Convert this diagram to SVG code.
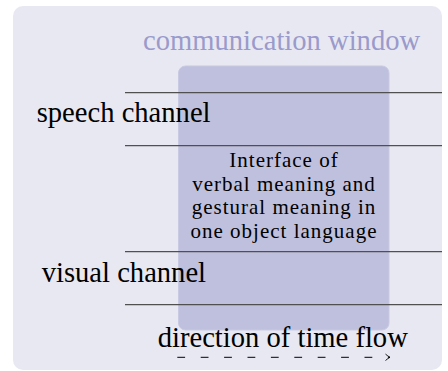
<svg xmlns="http://www.w3.org/2000/svg" width="448" height="371" viewBox="0 0 448 371">
<defs>
<style>
.serif{font-family:"Liberation Serif","Times New Roman","DejaVu Serif",serif;}
.big{font-size:28.6px;fill:#000;}
.inner{font-size:21px;letter-spacing:1px;fill:#000;text-anchor:middle;}
.title{font-size:28.6px;fill:#9a9acb;}
.chan{stroke:#505050;stroke-width:1.3;fill:none;}
</style>
<marker id="arr" markerWidth="10" markerHeight="10" refX="6" refY="4" orient="auto" markerUnits="userSpaceOnUse">
<path d="M1.5,0.8 Q4,3 6,4 Q4,5 1.5,7.2" fill="none" stroke="#000" stroke-width="0.9"/>
</marker>
</defs>
<g id="background">
<rect x="13" y="6" width="429" height="364" rx="10" ry="10" fill="#e8e8f2"/>
</g>
<g id="window">
<rect x="178.5" y="66" width="210.5" height="264" rx="7" ry="7" fill="#bfc0dd" stroke="#c8c9e2" stroke-width="1"/>
<text class="serif title" x="143" y="50">communication window</text>
</g>
<g id="connectors">
<line class="chan" x1="125" y1="92.7" x2="442" y2="92.7"/>
<line class="chan" x1="125" y1="145.7" x2="442" y2="145.7"/>
<line class="chan" x1="125" y1="251.7" x2="442" y2="251.7"/>
<line class="chan" x1="125" y1="304.7" x2="442" y2="304.7"/>
<line x1="177.3" y1="357.3" x2="390" y2="357.3" stroke="#000" stroke-width="1" stroke-dasharray="7.8 15.6" marker-end="url(#arr)"/>
</g>
<g id="speech">
<text class="serif big" x="36.7" y="122.3">speech channel</text>
</g>
<g id="interface">
<text class="serif inner" x="284" y="167"><tspan x="284">Interface of</tspan><tspan x="284" dy="24">verbal meaning and</tspan><tspan x="284" dy="23.3">gestural meaning in</tspan><tspan x="284" dy="23.4">one object language</tspan></text>
</g>
<g id="visual">
<text class="serif big" x="41.7" y="282.3">visual channel</text>
</g>
<g id="time">
<text class="serif big" x="157.7" y="346.7">direction of time flow</text>
</g>
</svg>
